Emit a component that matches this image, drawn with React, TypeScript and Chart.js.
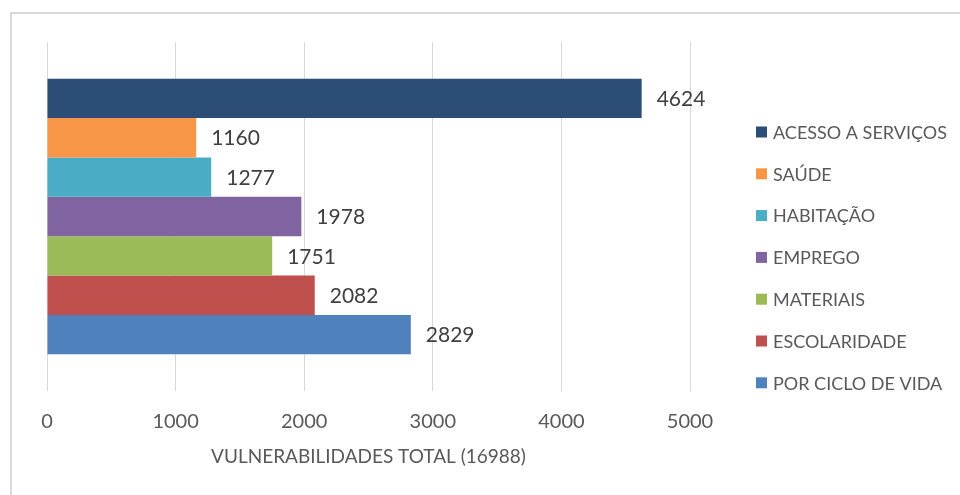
import React, { useEffect, useRef } from "react";
import { Chart, registerables } from "chart.js";

Chart.register(...registerables);

const categories = ["VULNERABILIDADES"];
const seriesLabels = [
  "ACESSO A SERVIÇOS",
  "SAÚDE",
  "HABITAÇÃO",
  "EMPREGO",
  "MATERIAIS",
  "ESCOLARIDADE",
  "POR CICLO DE VIDA",
];
const seriesValues = [4624, 1160, 1277, 1978, 1751, 2082, 2829];
const seriesColors = ["#2C4D75", "#F79646", "#4BACC6", "#8064A2", "#9BBB59", "#C0504D", "#4F81BD"];
const xMin = 0;
const xMax = 5000;
const xStep = 1000;
const axisTitle = "VULNERABILIDADES TOTAL (16988)";

const FONT = "Lato";

const valueLabelPlugin = {
  id: "valueLabels",
  afterDatasetsDraw(chart: any) {
    const ctx = chart.ctx;
    ctx.save();
    ctx.font = `21px ${FONT}`;
    ctx.fillStyle = "#404040";
    ctx.textAlign = "left";
    ctx.textBaseline = "middle";
    chart.data.datasets.forEach((ds: any, i: number) => {
      const meta = chart.getDatasetMeta(i);
      const el = meta.data[0];
      if (!el) return;
      ctx.fillText(String(ds.data[0]), el.x + 15, el.y + 1);
    });
    ctx.restore();
  },
};

const axisTitlePlugin = {
  id: "axisTitleText",
  afterDraw(chart: any) {
    const ctx = chart.ctx;
    const area = chart.chartArea;
    ctx.save();
    ctx.font = `19px ${FONT}`;
    ctx.fillStyle = "#595959";
    ctx.textAlign = "center";
    ctx.textBaseline = "middle";
    ctx.fillText(axisTitle, (area.left + area.right) / 2, area.bottom + 66);
    ctx.restore();
  },
};

const sideLegendPlugin = {
  id: "sideLegend",
  afterDraw(chart: any) {
    const ctx = chart.ctx;
    const area = chart.chartArea;
    const x0 = area.right + 66;
    const y0 = area.top + 90;
    const gap = 41.8;
    ctx.save();
    ctx.font = `18px ${FONT}`;
    ctx.textAlign = "left";
    ctx.textBaseline = "middle";
    chart.data.datasets.forEach((ds: any, i: number) => {
      const y = y0 + i * gap;
      ctx.fillStyle = ds.backgroundColor;
      ctx.fillRect(x0, y - 5.5, 11, 11);
      ctx.fillStyle = "#595959";
      ctx.fillText(ds.label, x0 + 17, y + 1);
    });
    ctx.restore();
  },
};

export default function App() {
  const canvasRef = useRef<HTMLCanvasElement | null>(null);

  useEffect(() => {
    if (!canvasRef.current) return;
    const chart = new Chart(canvasRef.current, {
      type: "bar",
      data: {
        labels: categories,
        datasets: seriesLabels.map((label, i) => ({
          label,
          data: [seriesValues[i]],
          backgroundColor: seriesColors[i],
          borderWidth: 0,
          barPercentage: 1,
          categoryPercentage: 0.79,
        })),
      },
      options: {
        indexAxis: "y",
        animation: false,
        responsive: false,
        devicePixelRatio: 1,
        layout: { padding: { left: 47, right: 270, top: 42, bottom: 42 } },
        plugins: {
          legend: { display: false },
          tooltip: { enabled: false },
          title: { display: false },
        },
        scales: {
          y: { display: false },
          x: {
            min: xMin,
            max: xMax,
            ticks: {
              stepSize: xStep,
              color: "#595959",
              font: { family: FONT, size: 20 },
              padding: 19,
              callback: (v: any) => String(v),
            },
            grid: { color: "#d9d9d9", lineWidth: 1, drawTicks: false },
            border: { display: false },
            title: { display: false },
          },
        },
      },
      plugins: [valueLabelPlugin, axisTitlePlugin, sideLegendPlugin],
    });
    return () => chart.destroy();
  }, []);

  return (
    <div
      style={{
        position: "fixed",
        left: 0,
        top: 0,
        width: 960,
        height: 495,
        overflow: "hidden",
        background: "#ffffff",
      }}
    >
      <div
        style={{
          position: "absolute",
          left: 10,
          top: 12,
          width: 960,
          height: 500,
          borderLeft: "2px solid #d9d9d9",
          borderTop: "2px solid #d9d9d9",
        }}
      />
      <canvas
        ref={canvasRef}
        width={960}
        height={495}
        style={{ position: "absolute", left: 0, top: 0, width: 960, height: 495 }}
      />
    </div>
  );
}
